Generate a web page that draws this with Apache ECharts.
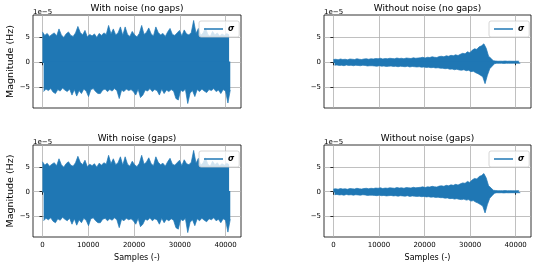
<!DOCTYPE html>
<html>
<head>
<meta charset="utf-8">
<script src="https://cdn.jsdelivr.net/npm/echarts@6/dist/echarts.min.js"></script>
<style>html,body{margin:0;padding:0;background:#fff}#c{width:538px;height:267px}</style>
</head>
<body>
<div id="c"></div>
<script>
// ---- data (values in units of 1e-5 Hz), envelope read per bin of BIN samples ----
const BIN = 516;
const titles = ['With noise (no gaps)', 'Without noise (no gaps)', 'With noise (gaps)', 'Without noise (gaps)'];
const xTicks = [0, 10000, 20000, 30000, 40000];
const yTicks = [-5, 0, 5];
const legendLabel = 'σ';

const noisyUpper = [6.1,5.4,5.8,5.2,5.6,5.9,5.3,6.7,5.5,5.0,5.7,6.1,5.4,5.2,5.9,7.2,6.0,5.5,6.4,5.1,
  5.6,5.3,5.7,5.0,5.8,5.4,5.9,5.6,7.4,5.7,6.7,5.5,5.9,7.1,5.4,7.1,5.6,5.2,6.2,5.5,
  5.1,5.8,7.4,5.6,6.0,6.9,5.7,5.3,7.1,6.0,5.5,5.8,5.2,6.1,6.8,5.6,5.4,5.9,6.4,5.3,
  6.5,5.7,5.5,6.0,8.4,5.8,6.8,5.4,5.9,6.9,5.6,5.2,6.2,5.5,5.9,5.3,5.7,5.4,5.8,5.5];
const noisyLower = [-5.9,-5.4,-5.7,-5.3,-6.0,-6.3,-5.5,-5.8,-5.2,-5.6,-5.9,-5.4,-6.6,-5.5,-6.8,-5.7,-6.3,-5.4,-5.8,-6.9,
  -5.5,-5.3,-5.9,-6.3,-6.3,-5.6,-5.4,-5.9,-5.5,-5.8,-5.3,-5.7,-7.3,-5.6,-5.9,-5.4,-5.7,-5.5,-5.9,-6.6,
  -5.4,-7.1,-6.6,-5.6,-5.8,-5.3,-5.9,-5.5,-5.7,-6.6,-5.4,-6.3,-5.6,-5.9,-5.5,-5.8,-7.3,-7.6,-5.6,-5.9,
  -5.4,-8.3,-6.2,-5.7,-6.9,-5.5,-5.9,-5.4,-5.8,-6.1,-5.5,-5.7,-5.3,-5.9,-5.6,-6.3,-5.5,-5.8,-8.2,-5.6];
const cleanUpper = [0.55,0.6,0.5,0.65,0.55,0.6,0.5,0.65,0.6,0.55,0.7,0.6,0.55,0.65,0.7,0.6,
  0.7,0.65,0.75,0.7,0.8,0.65,0.75,0.7,0.8,0.75,0.7,0.85,0.75,0.8,0.7,0.85,0.8,0.75,0.9,0.8,0.85,
  0.9,1.0,0.85,1.0,0.95,1.1,1.0,0.95,1.15,
  1.2,1.1,1.3,1.2,1.4,1.3,1.5,1.35,1.6,
  1.8,1.7,2.1,1.9,2.4,
  2.7,2.6,3.1,3.3,3.7,2.8,1.2,0.8,0.3,
  0.25,0.2,0.22,0.2,0.25,0.2,0.22,0.2,0.2,0.22,0.2];
const cleanLower = [-0.6,-0.55,-0.65,-0.6,-0.7,-0.55,-0.65,-0.6,-0.7,-0.6,-0.65,-0.7,-0.6,-0.65,-0.75,-0.7,
  -0.7,-0.75,-0.8,-0.7,-0.8,-0.75,-0.85,-0.8,-0.75,-0.85,-0.8,-0.9,-0.8,-0.85,-0.9,-0.8,-0.95,-0.85,-0.9,-0.95,-0.9,
  -1.0,-0.95,-1.05,-1.0,-1.1,-1.05,-1.15,-1.1,-1.2,
  -1.2,-1.3,-1.25,-1.4,-1.35,-1.5,-1.4,-1.55,-1.6,
  -1.5,-1.7,-1.6,-1.9,-1.8,
  -2.1,-2.3,-2.6,-2.9,-4.3,-2.6,-1.3,-0.8,-0.3,
  -0.2,-0.22,-0.2,-0.25,-0.2,-0.22,-0.2,-0.2,-0.22,-0.2,-0.2];

const panelUpper = [noisyUpper, cleanUpper, noisyUpper, cleanUpper];
const panelLower = [noisyLower, cleanLower, noisyLower, cleanLower];

const FONT = 'DejaVu Sans';
const BLUE = '#1f77b4';
const grids = [
  {left: 33, top: 15, width: 208, height: 93},
  {left: 324, top: 15, width: 207, height: 93},
  {left: 33, top: 145, width: 208, height: 92},
  {left: 324, top: 145, width: 207, height: 92}
];

const series = [];
grids.forEach((g, i) => {
  const up = panelUpper[i], lo = panelLower[i];
  // upper envelope, filled down slightly below 0 so both halves overlap
  series.push({
    type: 'line', name: legendLabel, xAxisIndex: i, yAxisIndex: i,
    data: up.map((v, k) => [k * BIN, v]),
    showSymbol: false, symbol: 'none',
    lineStyle: {color: BLUE, width: 0.7},
    itemStyle: {color: BLUE},
    areaStyle: {color: BLUE, opacity: 1, origin: -0.15},
    clip: true, z: 2
  });
  // lower envelope, filled up slightly above 0
  series.push({
    type: 'line', name: 'lower' + i, xAxisIndex: i, yAxisIndex: i,
    data: lo.map((v, k) => [k * BIN + BIN / 2, v]),
    showSymbol: false, symbol: 'none',
    lineStyle: {color: BLUE, width: 0.7},
    itemStyle: {color: BLUE},
    areaStyle: {color: BLUE, opacity: 1, origin: 0.15},
    clip: true, z: 2
  });
});

const option = {
  animation: false,
  backgroundColor: '#fff',
  grid: grids.map(g => Object.assign({show: true, borderColor: '#000', borderWidth: 0.8, backgroundColor: 'transparent'}, g)),
  xAxis: grids.map((g, i) => ({
    type: 'value', gridIndex: i, min: -2065, max: 43365,
    axisLine: {show: false},
    axisTick: {show: true, customValues: xTicks, length: 3, lineStyle: {color: '#000', width: 0.8}},
    axisLabel: {show: i >= 2, customValues: xTicks, fontSize: 7, color: '#000', fontFamily: FONT, margin: 5,
      formatter: v => String(v)},
    splitLine: {show: true, lineStyle: {color: '#b0b0b0', width: 0.8}},
    name: i >= 2 ? 'Samples (-)' : '', nameLocation: 'middle', nameGap: 17,
    nameTextStyle: {fontSize: 8, color: '#000', fontFamily: FONT}
  })),
  yAxis: grids.map((g, i) => ({
    type: 'value', gridIndex: i, min: -9.2, max: 9.5,
    axisLine: {show: false},
    axisTick: {show: true, customValues: yTicks, length: 3, lineStyle: {color: '#000', width: 0.8}},
    axisLabel: {show: true, customValues: yTicks, fontSize: 7, color: '#000', fontFamily: FONT, margin: 3,
      formatter: v => (v < 0 ? '\u2212' + Math.abs(v) : String(v))},
    splitLine: {show: true, lineStyle: {color: '#b0b0b0', width: 0.8}},
    name: (i % 2 === 0) ? 'Magnitude (Hz)' : '', nameLocation: 'middle', nameGap: 17,
    nameTextStyle: {fontSize: 9.5, color: '#000', fontFamily: FONT}
  })),
  legend: grids.map((g, i) => ({
    data: [legendLabel],
    left: g.left + g.width - 42, top: g.top + 6,
    icon: 'rect', itemWidth: 19, itemHeight: 1.5,
    padding: [4, 5, 4, 5],
    borderColor: '#cccccc', borderWidth: 0.8, borderRadius: 2,
    backgroundColor: 'rgba(255,255,255,0.8)',
    selectedMode: false,
    textStyle: {fontSize: 8, fontStyle: 'italic', fontWeight: 'bold', color: '#000', fontFamily: FONT}
  })),
  series: series,
  graphic: grids.map((g, i) => ([
    {type: 'text', x: g.left + g.width / 2, y: g.top - 6, style: {text: titles[i], fontSize: 9, fill: '#000', fontFamily: FONT, align: 'center', verticalAlign: 'middle'}},
    {type: 'text', x: g.left, y: g.top - 3, style: {text: '1e\u22125', fontSize: 7, fill: '#000', fontFamily: FONT, align: 'left', verticalAlign: 'middle'}}
  ])).flat()
};

const chart = echarts.init(document.getElementById('c'), null, {renderer: 'canvas'});
chart.setOption(option);
</script>
</body>
</html>
